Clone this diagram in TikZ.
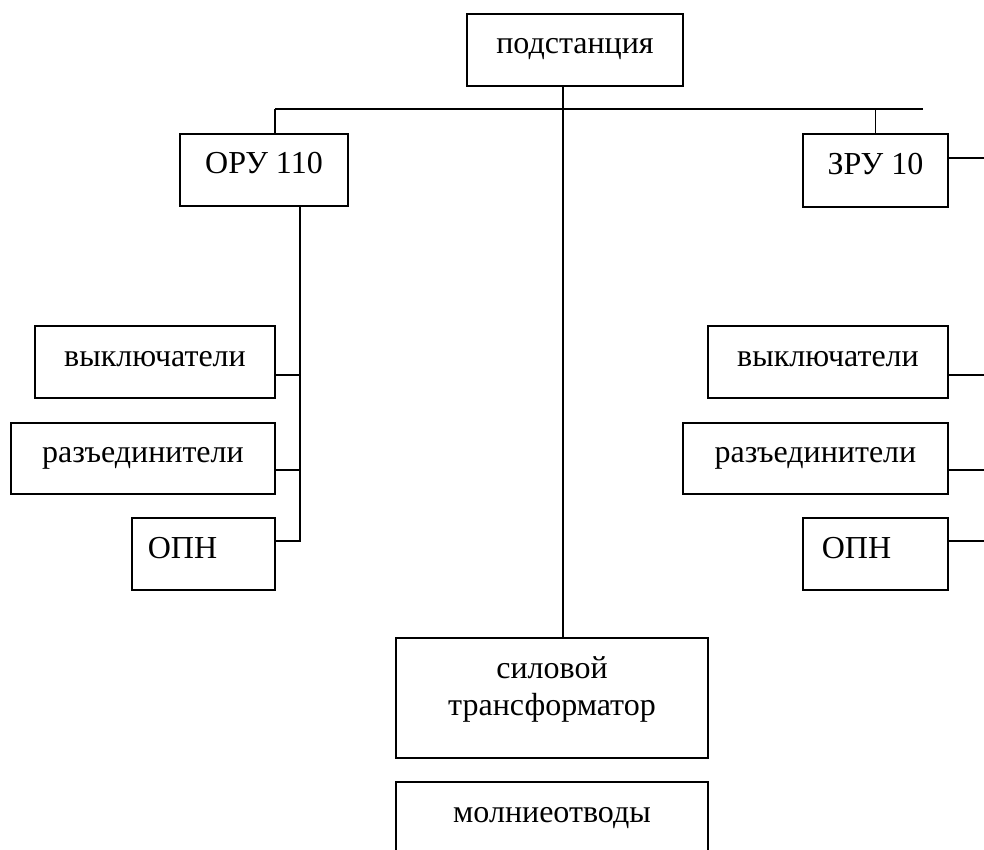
\documentclass[tikz,border=0pt]{standalone}
\usepackage{fontspec}
\setmainfont{Liberation Serif}
\begin{document}
\begin{tikzpicture}[x=1pt,y=-1pt,
  box/.style={draw, rectangle, inner sep=0pt, outer sep=0pt, line width=1.1pt,
    font=\fontsize{32}{37}\selectfont},
  onel/.style={text height=20pt, text depth=12pt},
  conn/.style={line width=1.1pt}]
\clip (0,0) rectangle (984,850);
\fill[white] (0,0) rectangle (984,850);

% boxes
\node[box, onel, minimum width=216pt, minimum height=72pt] (pod) at (575,50) {подстанция};
\node[box, onel, minimum width=168pt, minimum height=72pt] (oru) at (264,170) {ОРУ 110};
\node[box, onel, minimum width=145pt, minimum height=73pt] (zru) at (875.5,170.5) {ЗРУ 10};
\node[box, onel, minimum width=240pt, minimum height=72pt] (vykL) at (155,362) {выключатели};
\node[box, onel, minimum width=264pt, minimum height=71pt] (razL) at (143,458.5) {разъединители};
\node[box, onel, minimum width=143pt, minimum height=72pt] (opnL) at (203.5,554) {ОПН\hspace*{42pt}};
\node[box, onel, minimum width=240pt, minimum height=72pt] (vykR) at (828,362) {выключатели};
\node[box, onel, minimum width=265pt, minimum height=71pt] (razR) at (815.5,458.5) {разъединители};
\node[box, onel, minimum width=145pt, minimum height=72pt] (opnR) at (875.5,554) {ОПН\hspace*{38pt}};
\node[box, minimum width=312pt, minimum height=120pt] (sil) at (552,698)
  {\raisebox{0pt}[10pt][50pt]{\begin{tabular}[t]{@{}c@{}}силовой\\трансформатор\end{tabular}}};
\node[box, text height=12pt, text depth=20pt, minimum width=312pt, minimum height=88pt] (mol) at (552,826) {молниеотводы};

% bus and trunk
\coordinate (busL) at (275,109);
\coordinate (busR) at (923,109);
\coordinate (trunk) at (563,109);
\draw[conn] (busL) -- (busR);
\draw[conn] (busL) -- (oru.north -| busL);
\draw[conn] (zru.north |- busL) -- (zru.north);
\draw[conn] (pod.south -| trunk) -- (sil.north -| trunk);

% left spine
\coordinate (lspine) at (300,541);
\coordinate (jL1) at (300,375);
\coordinate (jL2) at (300,470);
\draw[conn] (oru.south -| lspine) -- (lspine) -- (opnL.east |- lspine);
\draw[conn] (vykL.east |- jL1) -- (jL1);
\draw[conn] (razL.east |- jL2) -- (jL2);

% right connectors to edge
\coordinate (eR0) at (992,158);
\coordinate (eR1) at (992,375);
\coordinate (eR2) at (992,470);
\coordinate (eR3) at (992,541);
\draw[conn] (zru.east |- eR0) -- (eR0);
\draw[conn] (vykR.east |- eR1) -- (eR1);
\draw[conn] (razR.east |- eR2) -- (eR2);
\draw[conn] (opnR.east |- eR3) -- (eR3);
\end{tikzpicture}
\end{document}
